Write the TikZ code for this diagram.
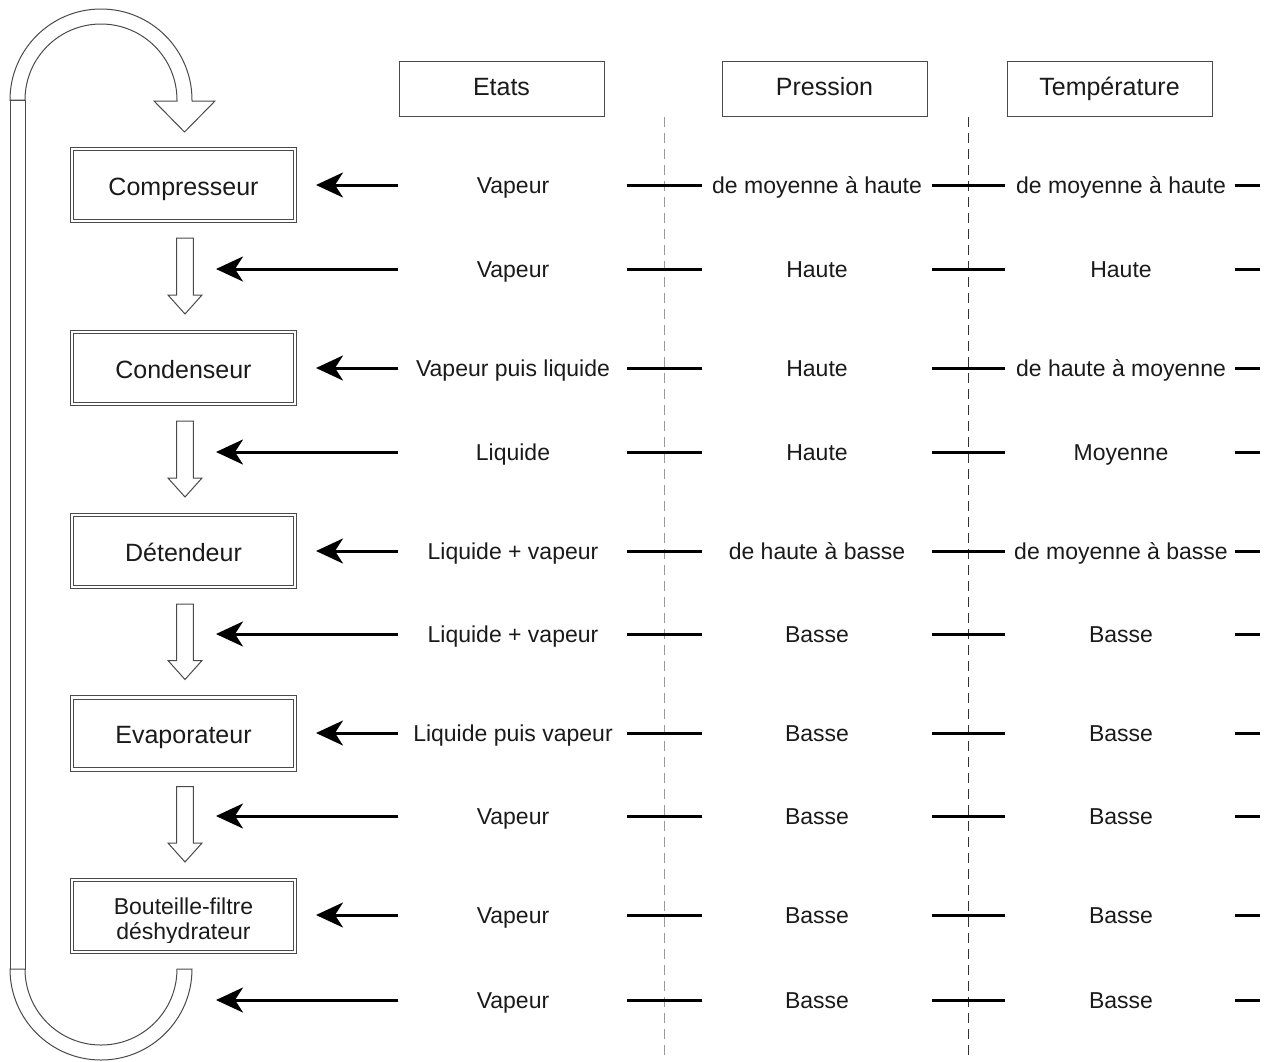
\documentclass[tikz,border=0pt]{standalone}
\usepackage{fontspec}
\setmainfont{Liberation Sans}
\usetikzlibrary{arrows.meta,calc}
\definecolor{txt}{HTML}{1A1A1A}
\definecolor{frame}{HTML}{4A4A4A}
\begin{document}
\begin{tikzpicture}[x=1pt,y=-1pt,
  compbox/.style={draw=frame, double=white, double distance=2.4pt, line width=0.9pt,
    minimum width=223pt, minimum height=72pt, inner sep=0pt, outer sep=0pt},
  lbl/.style={font=\fontsize{25}{28}\selectfont, text=txt, inner sep=0pt, anchor=base},
  lblsmall/.style={font=\fontsize{23}{26}\selectfont, text=txt, inner sep=0pt, anchor=base, align=center},
  headbox/.style={draw=frame, line width=1pt, minimum width=205pt, minimum height=55pt,
    inner sep=0pt, text height=18pt, text depth=5pt, font=\fontsize{25}{28}\selectfont, text=txt},
  val/.style={font=\fontsize{23}{26}\selectfont, text=txt, inner sep=0pt, anchor=base},
  feed/.style={line width=3pt, -{Stealth[length=27pt,width=25pt,inset=8pt]}},
  tick/.style={line width=3pt},
  sepline/.style={line width=1pt, dash pattern=on 10pt off 6pt},
  hollow/.style={draw=frame, line width=1pt, fill=white, line join=miter}
]
\useasboundingbox (0,0) rectangle (1265,1061);

% header boxes
\node[headbox] (hE) at (501.5,88.5) {Etats};
\node[headbox] (hP) at (824.5,88.5) {Pression};
\node[headbox] (hT) at (1109.5,88.5) {Température};

% dashed separators
\draw[sepline, draw=gray!80] (664,117) -- (664,1061);
\draw[sepline, draw=gray!40!black] (968,117) -- (968,1061);

% component boxes
\node[compbox] (comp) at (183.5,185) {};
\node[compbox] (cond) at (183.5,368) {};
\node[compbox] (det)  at (183.5,551) {};
\node[compbox] (evap) at (183.5,733.5) {};
\node[compbox] (bout) at (183.5,916) {};
\node[lbl] (compL) at ($(comp.center)+(0,10)$) {Compresseur};
\node[lbl] (condL) at ($(cond.center)+(0,10)$) {Condenseur};
\node[lbl] (detL)  at ($(det.center)+(0,10)$) {Détendeur};
\node[lbl] (evapL) at ($(evap.center)+(0,10)$) {Evaporateur};
\begin{scope}
  \clip (74,881) rectangle (293,942);
  \node[lblsmall] (boutL) at ($(bout.center)+(0,23)$) {Bouteille-filtre\\[-1pt]déshydrateur};
\end{scope}

% hollow arrows between boxes
\newcommand\hollowdown[2]{%
  \draw[hollow] ($(#1.south)+(-6.8,17)$) -- ($(#1.south)+(9.8,17)$)
    -- ($(#2.north)+(9.8,-37)$) -- ($(#2.north)+(18.5,-37)$)
    -- ($(#2.north)+(1.5,-18)$) -- ($(#2.north)+(-15.5,-37)$)
    -- ($(#2.north)+(-6.8,-37)$) -- cycle;}
\hollowdown{comp}{cond}
\hollowdown{cond}{det}
\hollowdown{det}{evap}
\hollowdown{evap}{bout}

% return loop
\draw[hollow] (10,100) rectangle (25,969);
\draw[hollow] (10,100) arc[start angle=180,end angle=0,radius=91pt]
  -- (192,101) -- (215,101) -- (184.5,132) -- (154,101) -- (177,101) -- (177,100)
  arc[start angle=0,end angle=180,radius=76pt] -- cycle;
\draw[hollow] (10,969) arc[start angle=180,end angle=360,radius=91pt]
  -- (177,969) arc[start angle=0,end angle=-180,radius=76pt] -- cycle;

% rows
\foreach \n/\y/\e/\p/\t in {
  1/185/Vapeur/de moyenne à haute/de moyenne à haute,
  2/269/Vapeur/Haute/Haute,
  3/368/Vapeur puis liquide/Haute/de haute à moyenne,
  4/452/Liquide/Haute/Moyenne,
  5/551/Liquide + vapeur/de haute à basse/de moyenne à basse,
  6/634/Liquide + vapeur/Basse/Basse,
  7/733/Liquide puis vapeur/Basse/Basse,
  8/816/Vapeur/Basse/Basse,
  9/915/Vapeur/Basse/Basse,
  10/1000/Vapeur/Basse/Basse}{
  \node[val] (e\n) at (513,\y+8) {\e};
  \node[val] (p\n) at (817,\y+8) {\p};
  \node[val] (t\n) at (1121,\y+8) {\t};
  \coordinate (s\n) at (398,\y);
  \draw[tick] (627,\y) -- (702,\y);
  \draw[tick] (932,\y) -- (1005,\y);
  \draw[tick] (1235,\y) -- (1260,\y);
}

% feed arrows to boxes
\draw[feed] (s1) -- ($(comp.east)+(21,0)$);
\draw[feed] (s3) -- ($(cond.east)+(21,0)$);
\draw[feed] (s5) -- ($(det.east)+(21,0)$);
\draw[feed] (s7) -- ($(evap.east |- s7)+(21,0)$);
\draw[feed] (s9) -- ($(bout.east |- s9)+(21,0)$);
% feed arrows to transitions
\foreach \n in {2,4,6,8,10}{
  \draw[feed] (s\n) -- ($(s\n)+(-182,0)$);
}
\end{tikzpicture}
\end{document}
